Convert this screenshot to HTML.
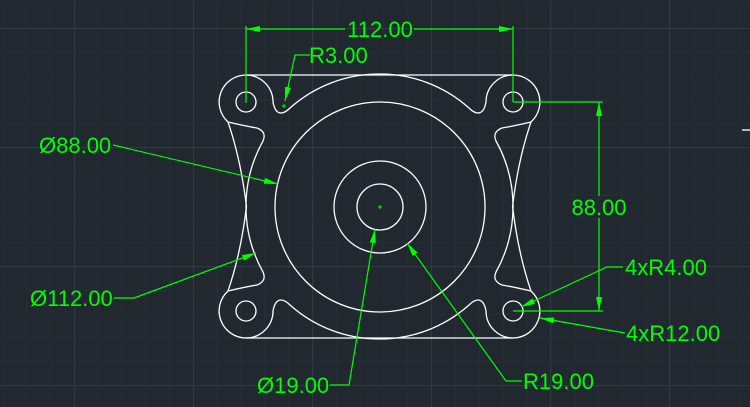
<!DOCTYPE html>
<html><head><meta charset="utf-8"><style>
html,body{margin:0;padding:0;background:#212830;}
svg{display:block}
text{font-family:"Liberation Sans",sans-serif;font-size:22px;fill:#00ff00}
</style></head><body>
<svg width="750" height="407" viewBox="0 0 750 407" xmlns="http://www.w3.org/2000/svg">
<defs>
<pattern id="minor" x="2.6" y="4.2" width="23.8" height="23.8" patternUnits="userSpaceOnUse">
<path d="M0 0.5H23.8M0.5 0V23.8" stroke="#272e38" stroke-width="1" fill="none"/>
</pattern>
<pattern id="major" x="74" y="28" width="119" height="119" patternUnits="userSpaceOnUse">
<path d="M0 0.5H119M0.5 0V119" stroke="#313844" stroke-width="1.2" fill="none"/>
</pattern>
<marker id="ar" viewBox="0 0 14 6" refX="14" refY="3" markerWidth="14" markerHeight="6" markerUnits="userSpaceOnUse" orient="auto">
<path d="M0 0L14 3L0 6Z" fill="#00ff00"/>
</marker>
</defs>
<rect width="750" height="407" fill="#212830"/>
<rect width="750" height="407" fill="url(#minor)"/>
<rect width="750" height="407" fill="url(#major)"/>

<g fill="none" stroke="#ffffff" stroke-width="1.3">
<g id="q">
<path d="M246,75 L379.5,75"/>
<path d="M246,75 A27 27 0 0 0 228,122 Q241,160 246.5,207"/>
<path d="M246,75 A27 27 0 0 1 273,102 Q275,113 281,113 Q285,113 290,108 A134 134 0 0 1 379.5,74"/>
<path d="M228,122 Q245,126 257,128 Q267,132 263,141 A134 134 0 0 0 246,207"/>
<circle cx="246" cy="102" r="10"/>
</g>
<use href="#q" transform="translate(759,0) scale(-1,1)"/>
<use href="#q" transform="translate(0,413) scale(1,-1)"/>
<use href="#q" transform="translate(759,413) scale(-1,-1)"/>
<circle cx="380" cy="207" r="105"/>
<circle cx="380" cy="207" r="46"/>
<circle cx="380" cy="207" r="23"/>
<path d="M742,130H750"/>
</g>
<path d="M378,207H382M380,205V209M282,106h4M284,104v4" stroke="#00ff00" stroke-width="1"/>

<g stroke="#00ff00" stroke-width="1.2" fill="none">
<!-- 112 -->
<path d="M246,103V26M513,102V26"/>
<path d="M345,29H246" marker-end="url(#ar)"/>
<path d="M414,29H513" marker-end="url(#ar)"/>
<!-- R3 -->
<path d="M310,55H295L285,101" marker-end="url(#ar)"/>
<!-- 88 -->
<path d="M513,102H603M513,311H603"/>
<path d="M599,196V102" marker-end="url(#ar)"/>
<path d="M599,218V311" marker-end="url(#ar)"/>
<!-- 4xR4 -->
<path d="M623,267H607L521,307" marker-end="url(#ar)"/>
<!-- 4xR12 -->
<path d="M625,333L540,318" marker-end="url(#ar)"/>
<!-- Ø88 -->
<path d="M113,145L278,184" marker-end="url(#ar)"/>
<!-- Ø112 -->
<path d="M114,298H134L256,253" marker-end="url(#ar)"/>
<!-- Ø19 -->
<path d="M330,385H349L375,229" marker-end="url(#ar)"/>
<!-- R19 -->
<path d="M522,381H506L407,243" marker-end="url(#ar)"/>
</g>

<text x="380" y="37" text-anchor="middle">112.00</text>
<text x="309" y="63">R3.00</text>
<text x="599" y="215" text-anchor="middle">88.00</text>
<text x="625" y="275">4xR4.00</text>
<text x="626" y="341">4xR12.00</text>
<text x="39" y="153">Ø88.00</text>
<text x="30" y="306">Ø112.00</text>
<text x="257" y="393">Ø19.00</text>
<text x="523" y="389">R19.00</text>
</svg>
</body></html>
